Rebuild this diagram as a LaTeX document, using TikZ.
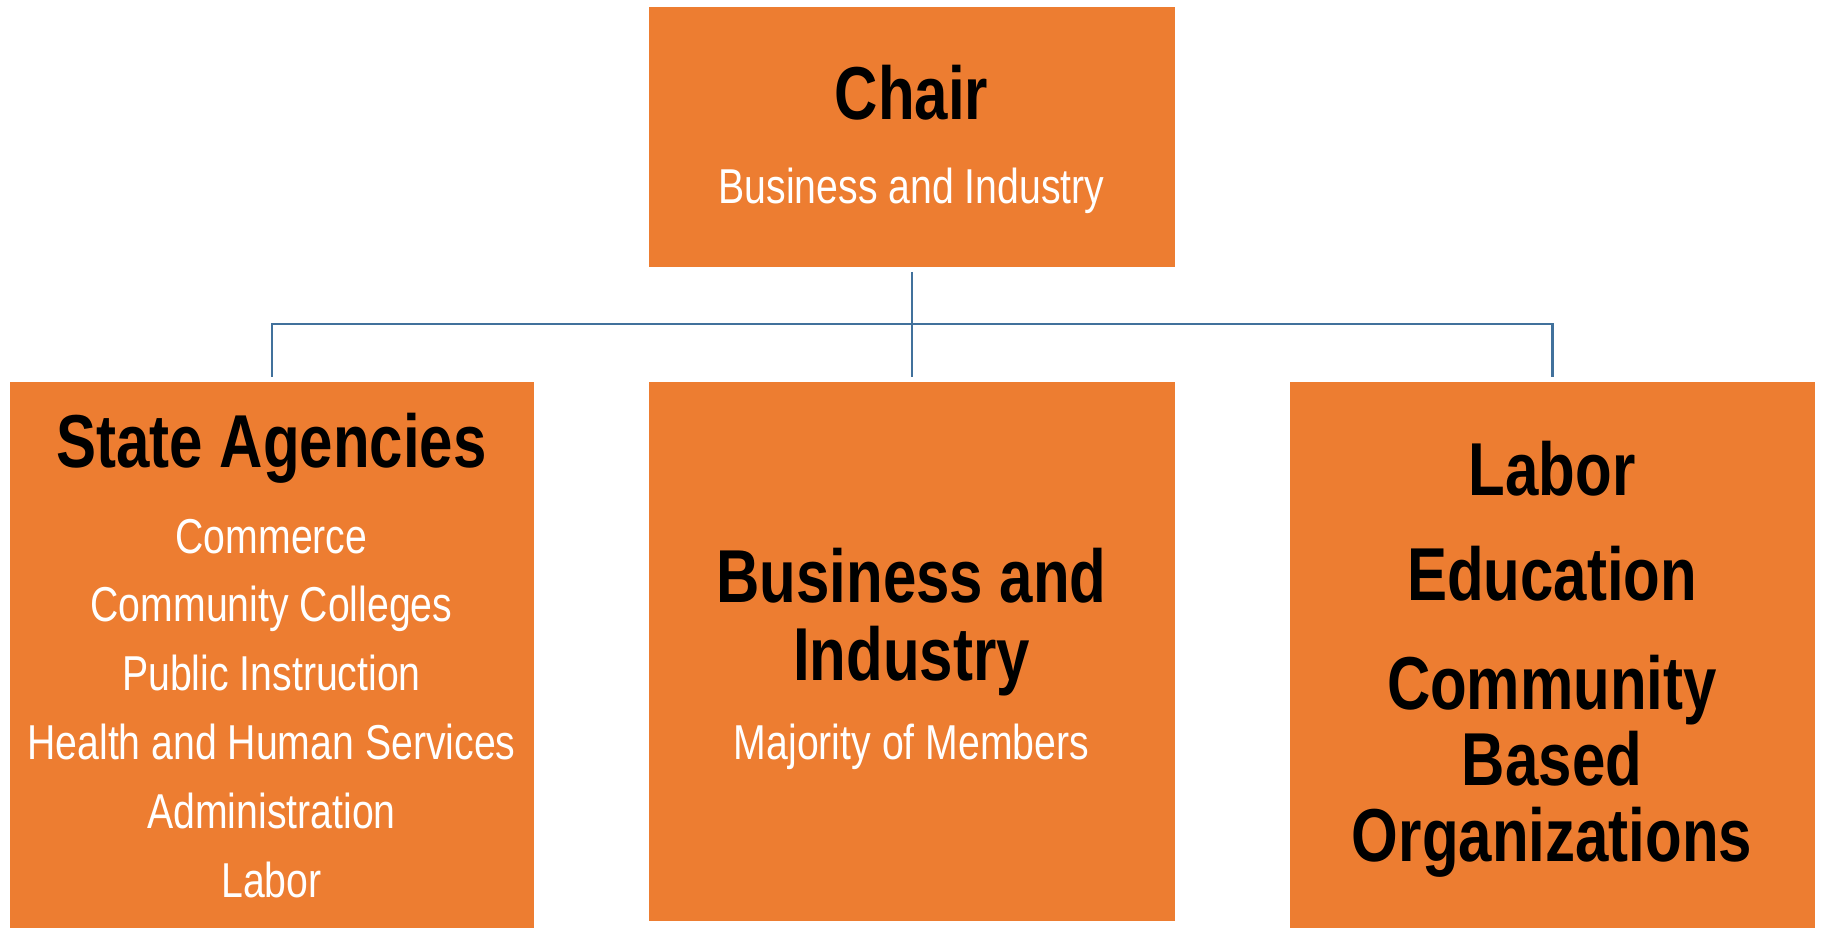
\documentclass[tikz,border=0pt]{standalone}
\usepackage{fontspec}
\newfontfamily\nar[FakeStretch=0.8]{Liberation Sans}
\definecolor{boxorange}{HTML}{ED7D31}
\definecolor{connblue}{HTML}{41719C}
\tikzset{
  orgbox/.style={rectangle, fill=boxorange, draw=white, line width=0.8pt, inner sep=0pt, anchor=north west},
  headtxt/.style={anchor=base, inner sep=0pt, text=black, font=\nar\bfseries\fontsize{75}{80}\selectfont},
  subtxt/.style={anchor=base, inner sep=0pt, text=white, font=\nar\fontsize{49}{55}\selectfont},
  conn/.style={draw=connblue, line width=2.3pt}
}
\begin{document}
\begin{tikzpicture}[x=1pt,y=-1pt]
\useasboundingbox (0,0) rectangle (1821,928);
% boxes
\node[orgbox, minimum width=527pt, minimum height=261pt] (chair) at (648,6) {};
\node[orgbox, minimum width=525pt, minimum height=547pt] (state) at (9,381) {};
\node[orgbox, minimum width=527pt, minimum height=540pt] (biz) at (648,381) {};
\node[orgbox, minimum width=526pt, minimum height=547pt] (labor) at (1289,381) {};
% chair text
\node[headtxt] (chairT) at (911.5,120) {Chair};
\node[subtxt] (chairS) at (911.5,204) {Business and Industry};
% state agencies
\node[headtxt] (stateT) at (271.5,467) {State Agencies};
\node[subtxt] (s1) at (271.5,553) {Commerce};
\node[subtxt] (s2) at (271.5,621) {Community Colleges};
\node[subtxt] (s3) at (271.5,690) {Public Instruction};
\node[subtxt] (s4) at (271.5,759) {Health and Human Services};
\node[subtxt] (s5) at (271.5,828) {Administration};
\node[subtxt] (s6) at (271.5,897) {Labor};
% business and industry
\node[headtxt] (bizT1) at (911.5,602) {Business and};
\node[headtxt] (bizT2) at (911.5,680) {Industry};
\node[subtxt] (bizS) at (911.5,759) {Majority of Members};
% labor etc
\node[headtxt] (l1) at (1552,495) {Labor};
\node[headtxt] (l2) at (1552,600) {Education};
\node[headtxt] (l3) at (1552,709) {Community};
\node[headtxt] (l4) at (1552,785) {Based};
\node[headtxt] (l5) at (1552,861) {Organizations};
% connectors
\coordinate (bus) at (911.5,324);
\draw[conn, shorten <=4pt, shorten >=4pt] (chair.south) -- (biz.north);
\draw[conn, shorten >=4pt] (bus) -| (state.north);
\draw[conn, shorten >=4pt] (bus) -| (labor.north);
\end{tikzpicture}
\end{document}
